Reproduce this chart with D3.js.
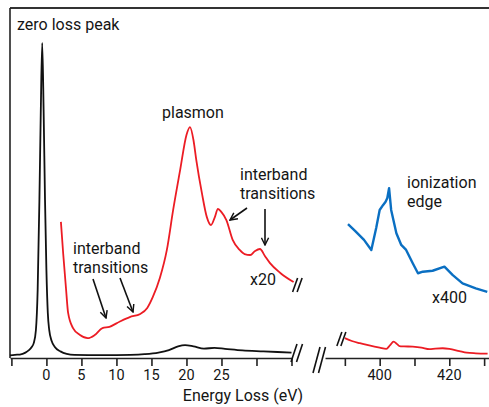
<html>
<head>
<style>
  body { margin: 0; background: #fff; }
  text { font-family: Roboto, "Open Sans", sans-serif; fill: #151515; }
</style>
</head>
<body>
<svg id="chart" width="489" height="407"></svg>
<script src="https://cdn.jsdelivr.net/npm/d3@7"></script>
<script>
// zero loss peak (black), intensity in arbitrary units (peak = 100)
const zlpEnergy = [-5.2, -4.5, -3.8, -3.0, -2.5, -2.1, -1.8, -1.5, -1.25, -1.0, -0.8, -0.6, -0.4, -0.2, 0.0, 0.2, 0.4, 0.75, 1.2, 2.0, 2.9, 4, 8, 12, 14, 16, 17.5, 18.8, 19.8, 21, 22.5, 24, 25.5, 28, 31, 35]
const zlpCounts = [0.8, 1.0, 1.1, 1.7, 2.5, 3.5, 4.8, 8.9, 21.6, 50.2, 78.7, 100, 78.7, 50.2, 27.9, 14.3, 8.9, 5.4, 3.5, 2.1, 1.3, 1.0, 0.9, 1.0, 1.2, 1.7, 2.5, 3.7, 4.1, 3.7, 3.0, 3.2, 2.9, 2.4, 2.1, 1.7]

// low loss x20 (red)
const lowEnergy = [2.07, 2.4, 2.8, 3.1, 3.8, 4.8, 5.9, 6.9, 8.0, 9.0, 10.5, 11.9, 13.4, 14.4, 15.2, 16.2, 17.2, 18.1, 19.1, 20.0, 20.5, 21.0, 21.4, 22.2, 22.9, 23.5, 24.0, 24.5, 25.0, 25.7, 26.6, 27.6, 28.3, 29.1, 29.8, 30.5, 31.2, 31.9, 33.4, 35.3]
const lowCounts = [43.2, 33, 22, 14.3, 9.5, 7.3, 6.3, 7.3, 9.5, 9.9, 11.6, 13.0, 14.0, 15.9, 19.4, 25.4, 34.3, 47.0, 59.7, 70.8, 73.3, 69.2, 62.9, 52.4, 44.8, 42.2, 44.4, 47.3, 46.3, 43.8, 37.5, 34.3, 33.0, 32.7, 34.0, 34.6, 32.4, 30.2, 27.0, 24.1]

// core loss x20 (red, bottom right)
const coreEnergy = [390, 392, 394.3, 397, 400, 401.9, 403, 404, 405, 405.7, 407, 409.5, 412, 414.3, 416, 418.1, 420, 422.9, 425, 427.6, 431]
const coreCounts = [6.3, 5.4, 4.7, 4.0, 3.3, 2.9, 4.1, 5.2, 4.4, 3.8, 3.7, 3.6, 3.3, 2.8, 3.0, 3.1, 2.9, 2.2, 1.7, 1.5, 1.4]

// ionization edge x400 (blue)
const edgeEnergy = [390.9, 393, 395.5, 397.6, 399, 400, 401, 401.7, 402.2, 402.7, 403.3, 404.8, 406.2, 407.6, 409.5, 411, 412.4, 415.2, 418.6, 421, 423.8, 427.6, 430.9]
const edgeCounts = [42.5, 40.3, 37.5, 34.3, 41.3, 47.0, 48.6, 49.6, 50.8, 53.9, 47.0, 39.6, 35.9, 34.3, 30.1, 26.9, 27.4, 27.7, 29.0, 26.3, 23.7, 22.1, 21.0]

const lowTicks = [0, 5, 10, 15, 20, 25]
const coreTicks = [400, 420]

let svg = d3.select("#chart")

let xLow = d3.scaleLinear().domain([-5.2, 35]).range([10, 291.5])
let xCore = d3.scaleLinear().domain([384.3, 431.4]).range([325, 489])
let y = d3.scaleLinear().domain([0, 100]).range([358, 43])

// frame
svg.append("line").attr("x1", 10).attr("x2", 489).attr("y1", 8).attr("y2", 8)
    .attr("stroke", "#333").attr("stroke-width", 2)
svg.append("line").attr("x1", 10).attr("x2", 10).attr("y1", 8).attr("y2", 358)
    .attr("stroke", "#222").attr("stroke-width", 1.6)

// axes: minor ticks, then major ticks
function drawAxis(scale, minor, major, labels) {
    let g = svg.append("g").attr("transform", "translate(0,358)")
    g.call(d3.axisBottom(scale).tickValues(minor).tickSize(5).tickSizeOuter(0).tickFormat(""))
    g.call(d3.axisBottom(scale).tickValues(major).tickSize(8).tickSizeOuter(0).tickFormat(""))
    g.selectAll("path, line").attr("stroke", "#222").attr("stroke-width", 1.6)
    g.selectAll("text").remove()
    g.selectAll(".lbl").data(labels).enter().append("text")
        .attr("x", d => scale(d)).attr("y", 22)
        .attr("text-anchor", "middle").style("font-size", "14.5px")
        .text(d => d)
}
drawAxis(xLow, d3.range(-5, 36, 1), d3.range(-5, 36, 5), lowTicks)
drawAxis(xCore, d3.range(390, 431, 2), d3.range(390, 431, 10), coreTicks)

svg.append("text").attr("x", 243).attr("y", 401).attr("text-anchor", "middle")
    .style("font-size", "16px").text("Energy Loss (eV)")

// curves
let lineLow = d3.line().x(d => xLow(d[0])).y(d => y(d[1])).curve(d3.curveMonotoneX)
let lineCore = d3.line().x(d => xCore(d[0])).y(d => y(d[1])).curve(d3.curveMonotoneX)

svg.append("path").attr("d", lineLow(d3.zip(zlpEnergy, zlpCounts)))
    .attr("fill", "none").attr("stroke", "#111").attr("stroke-width", 1.8)
svg.append("path").attr("d", lineLow(d3.zip(lowEnergy, lowCounts)))
    .attr("fill", "none").attr("stroke", "#ec1c24").attr("stroke-width", 1.8)
svg.append("path").attr("d", lineCore(d3.zip(coreEnergy, coreCounts)))
    .attr("fill", "none").attr("stroke", "#ec1c24").attr("stroke-width", 1.8)
svg.append("path").attr("d", d3.line().x(d => xCore(d[0])).y(d => y(d[1]))(d3.zip(edgeEnergy, edgeCounts)))
    .attr("fill", "none").attr("stroke", "#0a6fc2").attr("stroke-width", 2.4)
    .attr("stroke-linejoin", "round")

// break marks
function breakMark(x, yb, h, w, gap) {
    for (let i = 0; i < 2; i++) {
        svg.append("line")
            .attr("x1", x + i * gap).attr("y1", yb)
            .attr("x2", x + i * gap + w).attr("y2", yb - h)
            .attr("stroke", "#111").attr("stroke-width", 1.6)
    }
}
breakMark(xLow(35.3) - 1, 292, 14, 5, 4.5)
breakMark(291, 362, 18, 6, 5.5)
breakMark(313, 373, 26, 7, 5.5)
breakMark(xCore(390) - 8, 346, 14, 5, 4)

// arrows
svg.append("defs").append("marker").attr("id", "head")
    .attr("viewBox", "0 0 10 10").attr("refX", 9).attr("refY", 5)
    .attr("markerWidth", 9).attr("markerHeight", 9).attr("orient", "auto")
    .attr("markerUnits", "userSpaceOnUse")
    .append("path").attr("d", "M1,1 L9,5 L1,9").attr("fill", "none")
    .attr("stroke", "#111").attr("stroke-width", 1.6)

let arrows = [[93, 279, 106, 318], [120, 278, 133, 312], [247, 208, 230, 220], [265, 209, 265, 245]]
svg.selectAll(".arrow").data(arrows).enter().append("line")
    .attr("x1", d => d[0]).attr("y1", d => d[1]).attr("x2", d => d[2]).attr("y2", d => d[3])
    .attr("stroke", "#111").attr("stroke-width", 1.6).attr("marker-end", "url(#head)")

// annotations (multi-line ones as tspans)
let notes = [
    [["zero loss peak"], 17, 30],
    [["plasmon"], 162, 118],
    [["interband", "transitions"], 73, 253.5],
    [["interband", "transitions"], 240, 180],
    [["ionization", "edge"], 407, 188],
    [["x20"], 250, 285],
    [["x400"], 432, 303]
]
let t = svg.selectAll(".note").data(notes).enter().append("text")
    .attr("x", d => d[1]).attr("y", d => d[2])
    .style("font-size", "16px")
t.selectAll("tspan").data(d => d[0].map((s, i) => [s, d[1], i])).enter().append("tspan")
    .attr("x", d => d[1]).attr("dy", d => d[2] ? 19 : 0)
    .text(d => d[0])
</script>
</body>
</html>
